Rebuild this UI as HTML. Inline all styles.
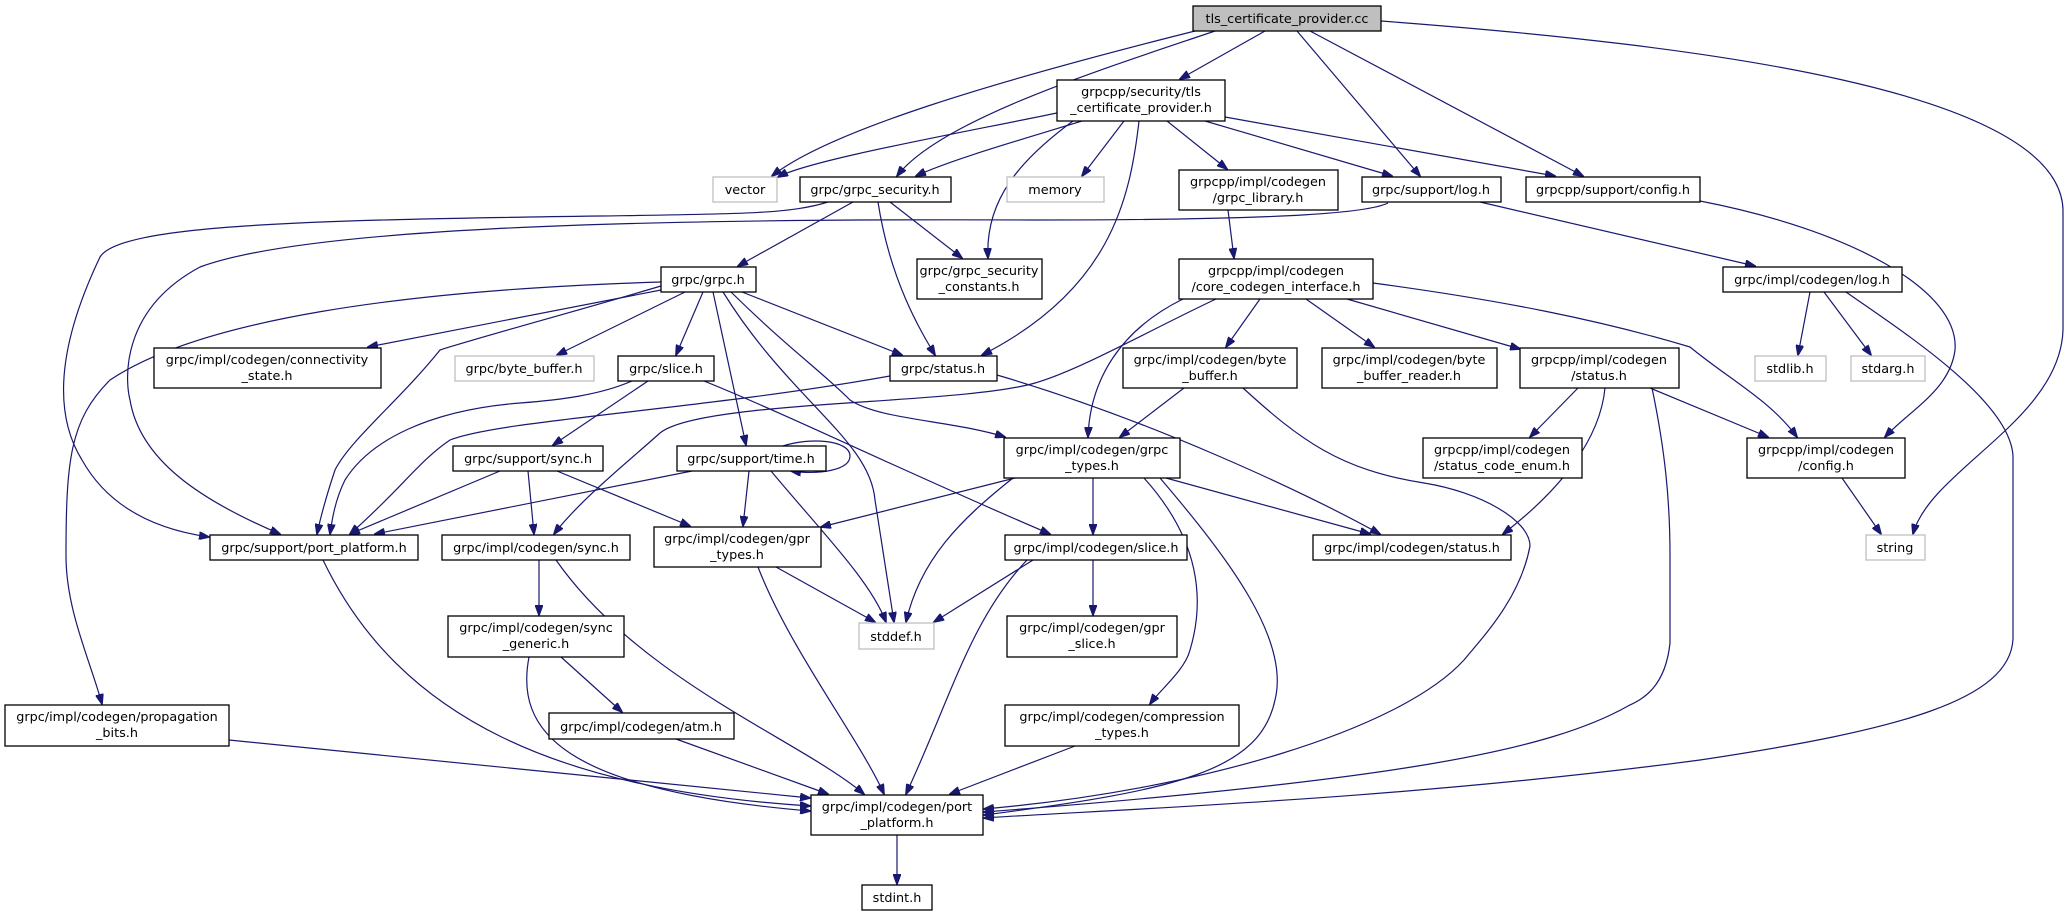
<!DOCTYPE html>
<html><head><meta charset="utf-8">
<style>
html,body{margin:0;padding:0;background:#fff;}
svg{display:block;}
text{font-family:"DejaVu Sans","Liberation Sans",sans-serif;font-size:12.8px;fill:#000;text-anchor:middle;}
.n{fill:#fff;stroke:#000;stroke-width:1.3;}
.g{fill:#fff;stroke:#bfbfbf;stroke-width:1.3;}
.r{fill:#bfbfbf;stroke:#000;stroke-width:1.3;}
path{fill:none;stroke:#191970;stroke-width:1.2;}
</style></head><body>
<svg width="2069" height="916" viewBox="0 0 2069 916" xmlns="http://www.w3.org/2000/svg">
<defs>
<marker id="a" markerWidth="11" markerHeight="8" refX="10" refY="4" orient="auto" markerUnits="userSpaceOnUse">
<path d="M0,0 L11,4 L0,8 Z" style="fill:#191970;stroke:#191970;stroke-width:1"/>
</marker>
</defs>
<g marker-end="url(#a)">
<!-- tls.cc -->
<path d="M1195,31 C1000,80 830,130 772,176"/>
<path d="M1215,31 C1100,70 940,120 897,176"/>
<path d="M1265,31 L1180,79"/>
<path d="M1297,31 L1420,176"/>
<path d="M1310,31 L1583,176"/>
<path d="M1381,21 C1700,45 2060,90 2063,210 L2063,330 C2060,420 1930,470 1913,534"/>
<!-- tls.h -->
<path d="M1057,113 C950,135 810,160 778,177"/>
<path d="M1082,121 C1020,140 950,160 916,176"/>
<path d="M1124,121 L1082,176"/>
<path d="M1073,121 C1020,160 985,200 988,258"/>
<path d="M1139,121 C1130,200 1110,290 982,355"/>
<path d="M1167,121 L1227,169"/>
<path d="M1205,121 L1392,176"/>
<path d="M1225,117 L1555,176"/>
<!-- grpc_security -->
<path d="M853,202 L738,266"/>
<path d="M890,202 L962,258"/>
<path d="M878,202 C890,280 920,330 935,355"/>
<path d="M828,202 C790,214 740,214 600,216 C300,220 120,225 100,257 C70,320 45,400 82,460 C110,510 160,530 209,537"/>
<!-- log.h -> port_platform -->
<path d="M1388,203 C1370,212 1300,220 1035,220 C600,218 300,230 200,267 C120,310 125,380 130,400 C140,460 200,500 280,534"/>
<!-- grpc.h -->
<path d="M661,282 C400,290 200,320 110,380 C70,420 66,460 66,556 C66,610 90,660 102,704"/>
<path d="M661,290 L368,347"/>
<path d="M685,292 L557,355"/>
<path d="M703,292 L676,355"/>
<path d="M713,292 L746,445"/>
<path d="M742,292 L902,355"/>
<path d="M723,292 C790,400 870,440 875,500 L894,622"/>
<path d="M731,292 C790,350 820,370 850,400 C880,420 950,420 1005,437"/>
<path d="M661,286 C580,310 470,340 440,350 C400,400 350,440 335,470 C325,500 320,520 317,534"/>
<!-- slice.h -->
<path d="M632,381 C600,395 560,400 520,403 C430,410 370,440 345,480 C335,500 332,520 330,534"/>
<path d="M648,381 L553,445"/>
<path d="M704,381 C800,420 900,470 1050,534"/>
<!-- status.h -->
<path d="M890,376 C700,410 500,420 450,440 C420,460 400,490 350,534"/>
<path d="M997,375 C1150,420 1300,490 1380,534"/>
<!-- sync.h / time.h -->
<path d="M500,471 L350,534"/>
<path d="M692,471 L375,534"/>
<path d="M528,471 L534,534"/>
<path d="M557,471 L690,526"/>
<path d="M749,471 L743,526"/>
<path d="M771,471 C820,530 870,580 886,622"/>
<path d="M783,446 C810,437 850,440 850,456 C850,470 820,475 791,471"/>
<!-- grpc_types -->
<path d="M1015,478 L821,527"/>
<path d="M1013,478 C960,520 920,560 906,622"/>
<path d="M1093,478 L1093,534"/>
<path d="M1166,478 L1370,534"/>
<path d="M1144,478 C1200,540 1205,600 1190,650 C1185,670 1160,690 1150,704"/>
<path d="M1160,478 C1230,560 1290,640 1275,700 C1260,770 1180,790 984,815"/>
<!-- codegen slice -->
<path d="M1033,560 L934,622"/>
<path d="M1093,560 L1093,615"/>
<path d="M1027,560 C970,620 950,700 906,794"/>
<!-- gpr_types -->
<path d="M776,567 L875,622"/>
<path d="M758,567 C790,650 860,740 884,794"/>
<!-- codegen sync -->
<path d="M539,560 L539,615"/>
<path d="M556,560 C640,680 800,740 864,794"/>
<!-- sync_generic -->
<path d="M561,657 L622,712"/>
<path d="M529,657 C515,730 560,790 810,811"/>
<!-- support port_platform -->
<path d="M323,560 C400,720 560,790 810,806"/>
<path d="M229,740 L810,798"/>
<path d="M676,739 L828,794"/>
<path d="M1075,746 L950,794"/>
<path d="M897,835 L897,884"/>
<!-- codegen byte buffer -->
<path d="M1184,388 L1120,437"/>
<path d="M1243,388 C1300,440 1340,470 1424,483 C1480,492 1530,520 1530,546 C1520,600 1480,640 1464,660 C1400,730 1200,790 984,809"/>
<!-- grpcpp status -->
<path d="M1652,388 C1665,450 1670,500 1670,556 L1670,643 C1665,690 1640,700 1628,706 C1550,750 1400,780 984,812"/>
<path d="M1578,388 L1530,437"/>
<path d="M1650,388 L1768,437"/>
<path d="M1605,388 C1600,440 1560,490 1503,534"/>
<!-- codegen log -->
<path d="M1846,292 C1900,330 2010,400 2013,456 L2013,639 C2010,700 1900,730 1700,760 C1400,800 1100,810 984,818"/>
<path d="M1810,292 L1798,355"/>
<path d="M1824,292 L1871,355"/>
<!-- core -->
<path d="M1260,299 L1226,347"/>
<path d="M1306,299 L1374,347"/>
<path d="M1347,299 L1520,349"/>
<path d="M1373,283 C1500,300 1600,320 1690,347 C1730,380 1770,400 1797,437"/>
<path d="M1183,299 C1120,330 1090,380 1088,437"/>
<path d="M1216,299 C1150,330 1080,370 1035,383 C960,405 700,400 660,433 C630,460 580,500 554,534"/>
<!-- misc -->
<path d="M1228,210 L1234,258"/>
<path d="M1480,202 L1755,266"/>
<path d="M1700,201 C1850,230 1960,290 1955,350 C1950,390 1910,410 1885,437"/>
<path d="M1842,478 L1881,534"/>
</g>

<!-- nodes -->
<rect class="r" x="1193" y="6" width="188" height="25"/><text x="1287" y="23">tls_certificate_provider.cc</text>
<rect class="n" x="1057" y="80" width="168" height="41"/><text x="1141" y="96">grpcpp/security/tls</text><text x="1141" y="112">_certificate_provider.h</text>
<rect class="g" x="713" y="177" width="64" height="25"/><text x="745" y="194">vector</text>
<rect class="n" x="800" y="177" width="151" height="25"/><text x="875" y="194">grpc/grpc_security.h</text>
<rect class="g" x="1007" y="177" width="97" height="25"/><text x="1055" y="194">memory</text>
<rect class="n" x="1179" y="170" width="159" height="40"/><text x="1258" y="186">grpcpp/impl/codegen</text><text x="1258" y="202">/grpc_library.h</text>
<rect class="n" x="1362" y="177" width="139" height="25"/><text x="1431" y="194">grpc/support/log.h</text>
<rect class="n" x="1526" y="177" width="174" height="25"/><text x="1613" y="194">grpcpp/support/config.h</text>
<rect class="n" x="661" y="267" width="95" height="25"/><text x="708" y="284">grpc/grpc.h</text>
<rect class="n" x="917" y="259" width="125" height="40"/><text x="979" y="275">grpc/grpc_security</text><text x="979" y="291">_constants.h</text>
<rect class="n" x="1179" y="259" width="194" height="40"/><text x="1276" y="275">grpcpp/impl/codegen</text><text x="1276" y="291">/core_codegen_interface.h</text>
<rect class="n" x="1723" y="267" width="179" height="25"/><text x="1812" y="284">grpc/impl/codegen/log.h</text>
<rect class="n" x="154" y="348" width="227" height="40"/><text x="267" y="364">grpc/impl/codegen/connectivity</text><text x="267" y="380">_state.h</text>
<rect class="g" x="455" y="356" width="139" height="25"/><text x="524" y="373">grpc/byte_buffer.h</text>
<rect class="n" x="618" y="356" width="96" height="25"/><text x="666" y="373">grpc/slice.h</text>
<rect class="n" x="890" y="356" width="107" height="25"/><text x="943" y="373">grpc/status.h</text>
<rect class="n" x="1123" y="348" width="174" height="40"/><text x="1210" y="364">grpc/impl/codegen/byte</text><text x="1210" y="380">_buffer.h</text>
<rect class="n" x="1322" y="348" width="175" height="40"/><text x="1409" y="364">grpc/impl/codegen/byte</text><text x="1409" y="380">_buffer_reader.h</text>
<rect class="n" x="1520" y="348" width="159" height="40"/><text x="1599" y="364">grpcpp/impl/codegen</text><text x="1599" y="380">/status.h</text>
<rect class="g" x="1755" y="356" width="71" height="25"/><text x="1790" y="373">stdlib.h</text>
<rect class="g" x="1851" y="356" width="74" height="25"/><text x="1888" y="373">stdarg.h</text>
<rect class="n" x="453" y="446" width="150" height="25"/><text x="528" y="463">grpc/support/sync.h</text>
<rect class="n" x="677" y="446" width="149" height="25"/><text x="751" y="463">grpc/support/time.h</text>
<rect class="n" x="1004" y="438" width="176" height="40"/><text x="1092" y="454">grpc/impl/codegen/grpc</text><text x="1092" y="470">_types.h</text>
<rect class="n" x="1423" y="438" width="159" height="40"/><text x="1502" y="454">grpcpp/impl/codegen</text><text x="1502" y="470">/status_code_enum.h</text>
<rect class="n" x="1747" y="438" width="158" height="40"/><text x="1826" y="454">grpcpp/impl/codegen</text><text x="1826" y="470">/config.h</text>
<rect class="n" x="210" y="535" width="208" height="25"/><text x="314" y="552">grpc/support/port_platform.h</text>
<rect class="n" x="442" y="535" width="188" height="25"/><text x="536" y="552">grpc/impl/codegen/sync.h</text>
<rect class="n" x="654" y="527" width="167" height="40"/><text x="737" y="543">grpc/impl/codegen/gpr</text><text x="737" y="559">_types.h</text>
<rect class="n" x="1005" y="535" width="182" height="25"/><text x="1096" y="552">grpc/impl/codegen/slice.h</text>
<rect class="n" x="1313" y="535" width="198" height="25"/><text x="1412" y="552">grpc/impl/codegen/status.h</text>
<rect class="g" x="1866" y="535" width="59" height="25"/><text x="1895" y="552">string</text>
<rect class="g" x="859" y="623" width="75" height="26"/><text x="896" y="641">stddef.h</text>
<rect class="n" x="448" y="616" width="176" height="41"/><text x="536" y="632">grpc/impl/codegen/sync</text><text x="536" y="648">_generic.h</text>
<rect class="n" x="1007" y="616" width="170" height="41"/><text x="1092" y="632">grpc/impl/codegen/gpr</text><text x="1092" y="648">_slice.h</text>
<rect class="n" x="5" y="705" width="224" height="41"/><text x="117" y="721">grpc/impl/codegen/propagation</text><text x="117" y="737">_bits.h</text>
<rect class="n" x="549" y="713" width="185" height="26"/><text x="641" y="731">grpc/impl/codegen/atm.h</text>
<rect class="n" x="1005" y="705" width="234" height="41"/><text x="1122" y="721">grpc/impl/codegen/compression</text><text x="1122" y="737">_types.h</text>
<rect class="n" x="811" y="795" width="172" height="40"/><text x="897" y="811">grpc/impl/codegen/port</text><text x="897" y="827">_platform.h</text>
<rect class="n" x="862" y="885" width="70" height="25"/><text x="897" y="902">stdint.h</text>
</svg>
</body></html>
